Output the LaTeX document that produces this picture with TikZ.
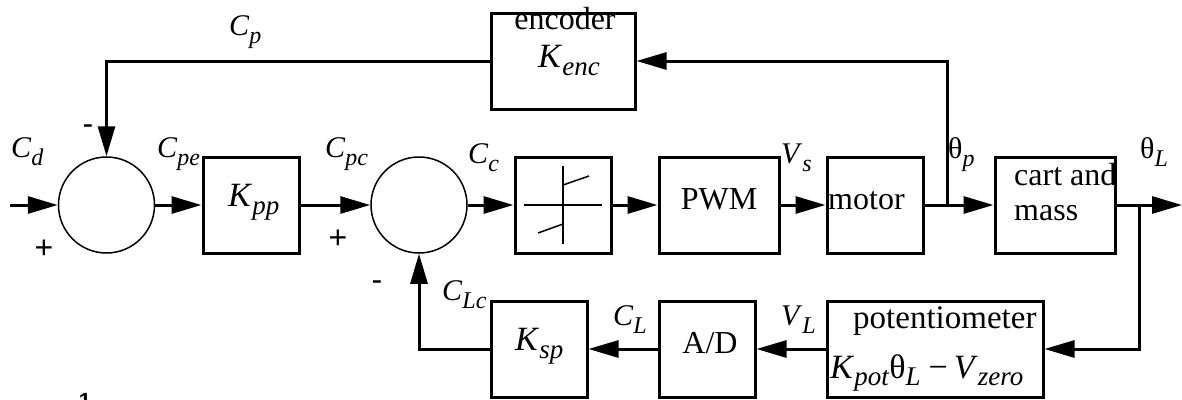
\documentclass[tikz,border=0pt]{standalone}
\usepackage{fontspec}
\setmainfont{Liberation Serif}
\newfontfamily\helv{Liberation Sans}
\usetikzlibrary{arrows.meta,calc}
\newcommand\mfont{\fontsize{30}{32}\selectfont}
\newcommand\sfontsub{\fontsize{24}{26}\selectfont}
\newcommand\mlab[2]{{\mfont\textit{#1}\raisebox{-8pt}{\sfontsub\textit{#2}}}}
\newcommand\thlab[1]{{\mfont θ\raisebox{-8pt}{\sfontsub\textit{#1}}}}
\newcommand\bfnt{\fontsize{34}{36}\selectfont}
\newcommand\bsub{\fontsize{27}{29}\selectfont}
\begin{document}
\begin{tikzpicture}[x=1pt,y=-1pt,
  blk/.style={draw, line width=3pt, inner sep=0pt, minimum height=96pt},
  sumc/.style={draw, circle, line width=1.5pt, minimum size=96pt, inner sep=0pt},
  arr/.style={line width=3pt, -{Triangle[length=30pt,width=17pt]}},
  txt/.style={inner sep=0pt, anchor=base west, font=\fontsize{32}{36}\selectfont},
  ctxt/.style={inner sep=0pt, anchor=base, font=\fontsize{32}{36}\selectfont},
  lab/.style={inner sep=0pt, anchor=base west},
  sgn/.style={inner sep=0pt, font=\helv\fontsize{32}{34}\selectfont}]
\useasboundingbox (0,0) rectangle (1182,399);

% blocks
\node[sumc] (s1) at (106.5,205) {};
\node[blk, minimum width=96pt] (kpp) at (251,205) {};
\node[sumc] (s2) at (419,205) {};
\node[blk, minimum width=96pt] (sat) at (563,205) {};
\node[blk, minimum width=120pt] (pwm) at (719,205) {};
\node[blk, minimum width=96pt] (mot) at (875,205) {};
\node[blk, minimum width=120pt] (cart) at (1055,205) {};
\node[blk, minimum width=144pt] (enc) at (563,61) {};
\node[blk, minimum width=96pt] (ksp) at (539,349) {};
\node[blk, minimum width=96pt] (ad) at (707,349) {};
\node[blk, minimum width=216pt] (pot) at (935,349) {};

% saturation symbol
\draw[line width=2.5pt] ([xshift=-39pt]sat.center) -- ([xshift=39pt]sat.center);
\draw[line width=2.5pt] ([yshift=-39pt]sat.center) -- ([yshift=39pt]sat.center);
\draw[line width=1.5pt] ($(sat.center)+(0,-20)$) -- ($(sat.center)+(26,-29)$);
\draw[line width=1.5pt] ($(sat.center)+(-25,28)$) -- ($(sat.center)+(0,19)$);

% block texts
\node[lab] (tkpp) at (228,206) {{\bfnt\textit{K}}\raisebox{-8pt}{\bsub\textit{pp}}};
\node[ctxt] (tpwm) at (719,209) {PWM};
\node[txt] (tmot) at (828,209) {motor};
\node[txt] (tcart1) at (1014,185) {cart and};
\node[txt] (tcart2) at (1014,220) {mass};
\node[ctxt] (tenc1) at (565,29) {encoder};
\node[lab] (tenc2) at (538,67) {{\bfnt\textit{K}}\raisebox{-8pt}{\bsub\textit{enc}}};
\node[lab] (tksp) at (515,350) {{\bfnt\textit{K}}\raisebox{-8pt}{\bsub\textit{sp}}};
\node[ctxt] (tad) at (710,353) {A/D};
\node[txt, font=\fontsize{33}{36}\selectfont] (tpot1) at (853,328) {potentiometer};
\node[lab] (tpot2) at (830,378) {{\bfnt\textit{K}}\raisebox{-7pt}{\bsub\textit{pot}}{\bfnt θ}\raisebox{-7pt}{\bsub\textit{L}}\hspace{8pt}{\bfnt −\hspace{6pt}\textit{V}}\raisebox{-7pt}{\bsub\textit{zero}}};

% signal coordinates
\coordinate (in) at (10,205);
\coordinate (out) at (1182,205);
\coordinate (jp) at (947,205);
\coordinate (jl) at (1139,205);

% connectors
\draw[arr] (in) -- (s1.west);
\draw[arr] (s1.east) -- (kpp.west);
\draw[arr] (kpp.east) -- (s2.west);
\draw[arr] (s2.east) -- (sat.west);
\draw[arr] (sat.east) -- (pwm.west);
\draw[arr] (pwm.east) -- (mot.west);
\draw[arr] (mot.east) -- (cart.west);
\draw[arr] (cart.east) -- (out);
\draw[arr] (jp) |- (enc.east);
\draw[arr] (enc.west) -| (s1.north);
\draw[arr] (jl) |- (pot.east);
\draw[arr] (pot.west) -- (ad.east);
\draw[arr] (ad.west) -- (ksp.east);
\draw[arr] (ksp.west) -| (s2.south);

% signal labels
\node[lab] (lcd) at (11,157) {\mlab{C}{d}};
\node[lab] (lcpe) at (157,157) {\mlab{C}{pe}};
\node[lab] (lcpc) at (325,157) {\mlab{C}{pc}};
\node[lab] (lcc) at (468,163) {\mlab{C}{c}};
\node[lab] (lvs) at (781,163) {\mlab{V}{s}};
\node[lab] (lthp) at (948,158) {\thlab{p}};
\node[lab] (lthl) at (1140,158) {\thlab{L}};
\node[lab] (lcp) at (229,35) {\mlab{C}{p}};
\node[lab] (lclc) at (442,300) {\mlab{C}{Lc}};
\node[lab] (lcl) at (613,325) {\mlab{C}{L}};
\node[lab] (lvl) at (781,325) {\mlab{V}{L}};

% signs
\node[sgn] (p1) at (44,249) {+};
\node[sgn] (p2) at (338,239) {+};
\node[sgn] (m1) at (88,130) {-};
\node[sgn] (m2) at (377,286) {-};

% clipped fragment at bottom
\node[inner sep=0pt, anchor=north, font=\helv\bfseries\fontsize{22}{24}\selectfont] (frag) at (85,393) {1};
\end{tikzpicture}
\end{document}
